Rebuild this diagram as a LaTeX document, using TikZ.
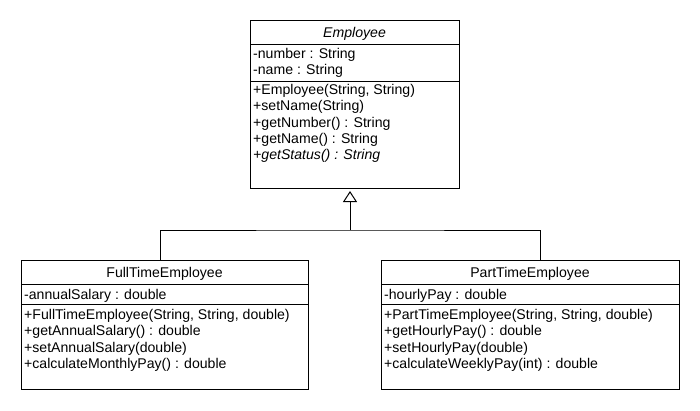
\documentclass[tikz,border=0pt]{standalone}
\usepackage{fontspec}
\setmainfont{Liberation Sans}
\usetikzlibrary{arrows.meta}
\usetikzlibrary{calc}

\begin{document}
\begin{tikzpicture}[x=1pt,y=-1pt,
    classbox/.style={draw,line width=1,inner sep=0,outer sep=0,anchor=north west},
    divider/.style={line width=1},
    member/.style={anchor=base west,inner sep=0,font=\fontsize{14.1}{16}\selectfont},
    classname/.style={member,anchor=base},
    inherit/.style={line width=1,-{Triangle[open,length=11pt,width=14pt]},shorten >=3pt},
    link/.style={line width=1}
    ]
    \def\dy{16.3} % line spacing
    \useasboundingbox (0,0) rectangle (700,410);

    % abstract base class
    \node[classbox,minimum width=209,minimum height=168] (emp) at (250,20) {};
    \draw[divider] ($(emp.north west)+(0,24)$) -- ($(emp.north east)+(0,24)$);
    \draw[divider] ($(emp.north west)+(0,61)$) -- ($(emp.north east)+(0,61)$);
    \node[classname] (emp-name) at (354.5,37.5) {\itshape Employee};
    \foreach \t [count=\i] in {{-number : String},{-name : String}}
        \node[member] (emp-a\i) at (253,58.5+\dy*\i-\dy) {\t};
    \foreach \t [count=\i] in {{+Employee(String, String)},{+setName(String)},
        {+getNumber() : String},{+getName() : String},{\itshape +getStatus() : String}}
        \node[member] (emp-m\i) at (253,94.5+\dy*\i-\dy) {\t};

    % subclasses
    \node[classbox,minimum width=287,minimum height=129] (ft) at (21,260) {};
    \node[classbox,minimum width=298,minimum height=129] (pt) at (381,260) {};
    \foreach \c in {ft,pt} {
        \draw[divider] ($(\c.north west)+(0,24)$) -- ($(\c.north east)+(0,24)$);
        \draw[divider] ($(\c.north west)+(0,44)$) -- ($(\c.north east)+(0,44)$);
    }
    \node[classname] (ft-name) at (164.5,277) {FullTimeEmployee};
    \node[member] (ft-a1) at (24,299) {-annualSalary : double};
    \foreach \t [count=\i] in {{+FullTimeEmployee(String, String, double)},
        {+getAnnualSalary() : double},{+setAnnualSalary(double)},{+calculateMonthlyPay() : double}}
        \node[member] (ft-m\i) at (24,319.5+\dy*\i-\dy) {\t};
    \node[classname] (pt-name) at (530,277) {PartTimeEmployee};
    \node[member] (pt-a1) at (384,299) {-hourlyPay : double};
    \foreach \t [count=\i] in {{+PartTimeEmployee(String, String, double)},
        {+getHourlyPay() : double},{+setHourlyPay(double)},{+calculateWeeklyPay(int) : double}}
        \node[member] (pt-m\i) at (384,319.5+\dy*\i-\dy) {\t};

    % generalisation
    \coordinate (fork) at (350,230);
    \draw[inherit] (fork) -- (fork |- emp.south);
    \draw[link] (ft.north -| 160,0) |- (fork) -| (pt.north -| 540,0);
\end{tikzpicture}
\end{document}
